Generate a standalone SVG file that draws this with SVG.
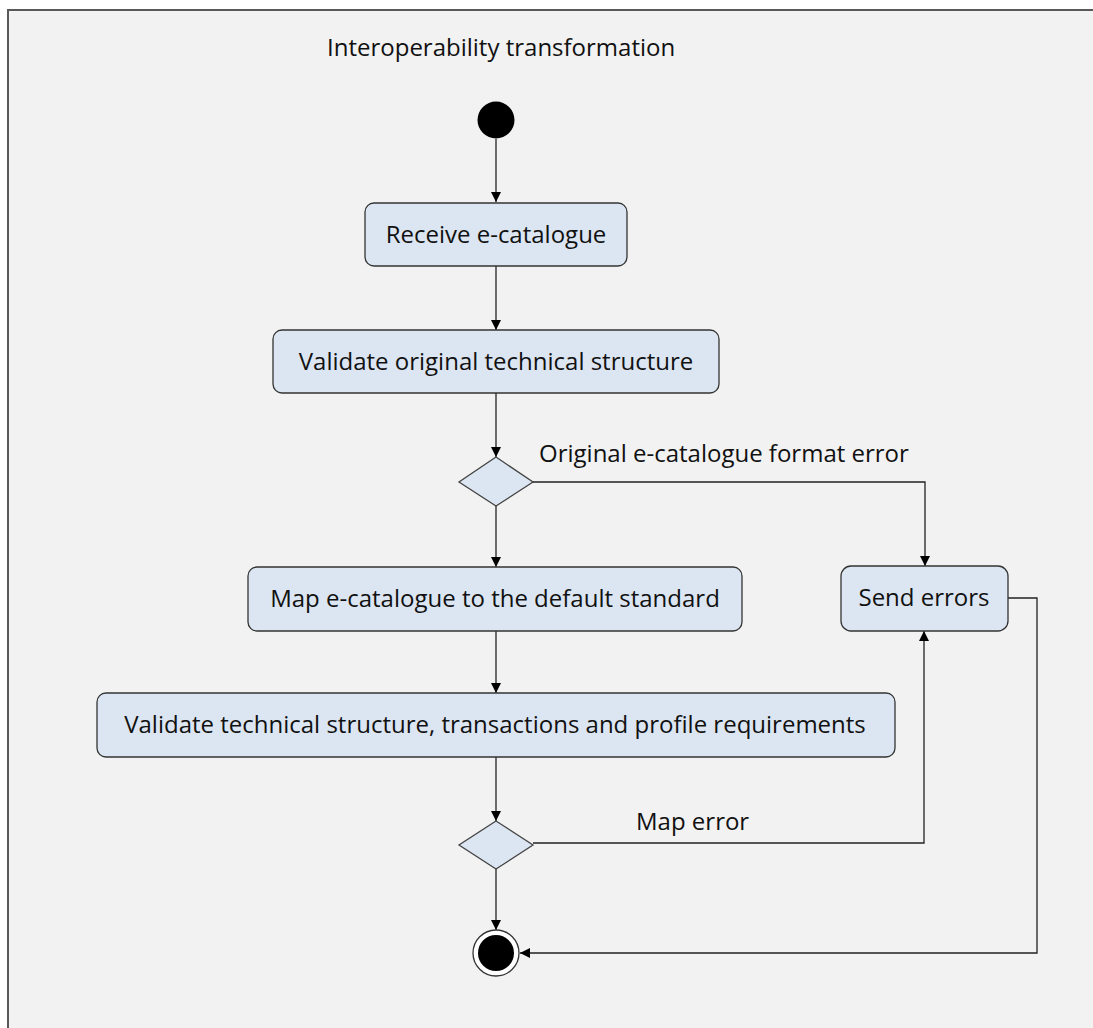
<svg xmlns="http://www.w3.org/2000/svg" width="1093" height="1028" viewBox="0 0 1093 1028">
  <defs>
    <marker id="arrow" viewBox="0 0 10 10" refX="10" refY="5" markerWidth="10" markerHeight="10" markerUnits="userSpaceOnUse" orient="auto">
      <path d="M0,0 L10,5 L0,10 z" fill="#000"/>
    </marker>
    <style>
      .frame { fill: #f2f2f2; stroke: #595959; stroke-width: 2; }
      .action { fill: #dce6f2; stroke: #333; stroke-width: 1.3; }
      .decision { fill: #dce6f2; stroke: #444; stroke-width: 1.3; }
      .flow { fill: none; stroke: #222; stroke-width: 1.3; }
      .lbl { font-family: "Open Sans", "Liberation Sans", sans-serif; font-size: 24px; fill: #111; }
      .mid { text-anchor: middle; }
    </style>
  </defs>

  <rect width="1093" height="1028" fill="#ffffff"/>
  <rect class="frame" x="8" y="10" width="1100" height="1030"/>

  <text class="lbl" x="327" y="56">Interoperability transformation</text>

  <!-- connectors -->
  <g id="connectors">
    <line class="flow" x1="496" y1="139" x2="496" y2="202" marker-end="url(#arrow)"/>
    <line class="flow" x1="496" y1="266" x2="496" y2="330" marker-end="url(#arrow)"/>
    <line class="flow" x1="496" y1="393" x2="496" y2="457" marker-end="url(#arrow)"/>
    <line class="flow" x1="496" y1="506" x2="496" y2="567" marker-end="url(#arrow)"/>
    <polyline class="flow" points="533,482 925,482 925,566" marker-end="url(#arrow)"/>
    <text class="lbl" x="539" y="462">Original e-catalogue format error</text>
    <line class="flow" x1="496" y1="631" x2="496" y2="693" marker-end="url(#arrow)"/>
    <line class="flow" x1="496" y1="757" x2="496" y2="821" marker-end="url(#arrow)"/>
    <polyline class="flow" points="533,843 924,843 924,631" marker-end="url(#arrow)"/>
    <text class="lbl" x="636" y="830">Map error</text>
    <line class="flow" x1="496" y1="869" x2="496" y2="930" marker-end="url(#arrow)"/>
    <polyline class="flow" points="1008,598 1037,598 1037,953 520,953" marker-end="url(#arrow)"/>
  </g>

  <g id="start">
    <circle cx="496" cy="120" r="18.5" fill="#000"/>
  </g>

  <g id="receive">
    <rect class="action" x="365" y="203" width="262" height="63" rx="9"/>
    <text class="lbl mid" x="496" y="243">Receive e-catalogue</text>
  </g>

  <g id="validate-original">
    <rect class="action" x="273" y="330" width="446" height="63" rx="9"/>
    <text class="lbl mid" x="496" y="370">Validate original technical structure</text>
  </g>

  <g id="decision-format">
    <polygon class="decision" points="496,457 533,482 496,506 459,482"/>
  </g>

  <g id="map">
    <rect class="action" x="248" y="567" width="494" height="64" rx="9"/>
    <text class="lbl mid" x="495" y="607">Map e-catalogue to the default standard</text>
  </g>

  <g id="send-errors">
    <rect class="action" x="841" y="566" width="167" height="65" rx="10"/>
    <text class="lbl mid" x="924" y="606">Send errors</text>
  </g>

  <g id="validate-profile">
    <rect class="action" x="97" y="693" width="798" height="64" rx="9"/>
    <text class="lbl mid" x="495" y="733">Validate technical structure, transactions and profile requirements</text>
  </g>

  <g id="decision-map">
    <polygon class="decision" points="496,821 533,845 496,869 459,845"/>
  </g>

  <g id="end">
    <circle cx="496" cy="953" r="23" fill="#fff" stroke="#333" stroke-width="1.3"/>
    <circle cx="496" cy="953" r="18" fill="#000"/>
  </g>
</svg>
